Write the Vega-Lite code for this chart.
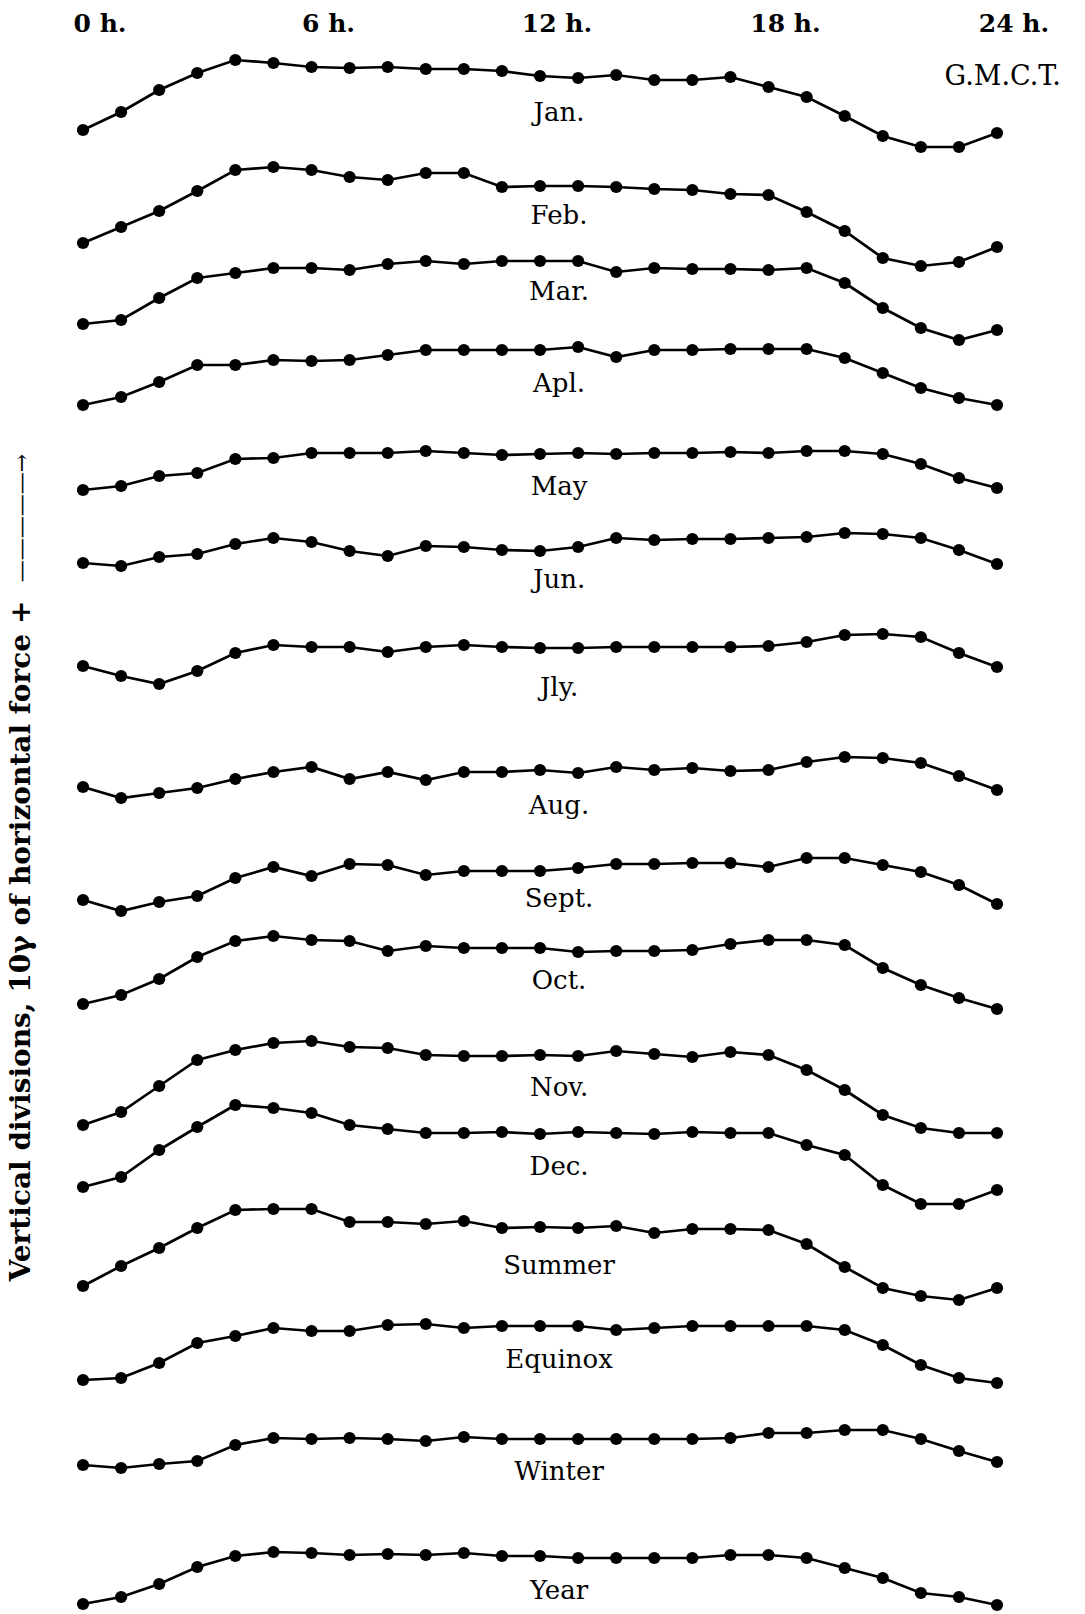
{
  "$schema": "https://vega.github.io/schema/vega-lite/v6.json",
  "width": 1085,
  "height": 1614,
  "autosize": {"type": "none"},
  "padding": 0,
  "background": "white",
  "config": {"view": {"stroke": null}},
  "datasets": {
    "curves": [
      {"series":"Jan.","hour":0,"level":1484},{"series":"Jan.","hour":1,"level":1502},{"series":"Jan.","hour":2,"level":1524},{"series":"Jan.","hour":3,"level":1541},{"series":"Jan.","hour":4,"level":1554},{"series":"Jan.","hour":5,"level":1551},{"series":"Jan.","hour":6,"level":1547},{"series":"Jan.","hour":7,"level":1546},{"series":"Jan.","hour":8,"level":1547},{"series":"Jan.","hour":9,"level":1545},{"series":"Jan.","hour":10,"level":1545},{"series":"Jan.","hour":11,"level":1543},{"series":"Jan.","hour":12,"level":1538},{"series":"Jan.","hour":13,"level":1536},{"series":"Jan.","hour":14,"level":1539},{"series":"Jan.","hour":15,"level":1534},{"series":"Jan.","hour":16,"level":1534},{"series":"Jan.","hour":17,"level":1537},{"series":"Jan.","hour":18,"level":1527},{"series":"Jan.","hour":19,"level":1517},{"series":"Jan.","hour":20,"level":1498},{"series":"Jan.","hour":21,"level":1478},{"series":"Jan.","hour":22,"level":1467},{"series":"Jan.","hour":23,"level":1467},{"series":"Jan.","hour":24,"level":1481},
      {"series":"Feb.","hour":0,"level":1371},{"series":"Feb.","hour":1,"level":1387},{"series":"Feb.","hour":2,"level":1403},{"series":"Feb.","hour":3,"level":1423},{"series":"Feb.","hour":4,"level":1444},{"series":"Feb.","hour":5,"level":1447},{"series":"Feb.","hour":6,"level":1444},{"series":"Feb.","hour":7,"level":1437},{"series":"Feb.","hour":8,"level":1434},{"series":"Feb.","hour":9,"level":1441},{"series":"Feb.","hour":10,"level":1441},{"series":"Feb.","hour":11,"level":1427},{"series":"Feb.","hour":12,"level":1428},{"series":"Feb.","hour":13,"level":1428},{"series":"Feb.","hour":14,"level":1427},{"series":"Feb.","hour":15,"level":1425},{"series":"Feb.","hour":16,"level":1424},{"series":"Feb.","hour":17,"level":1420},{"series":"Feb.","hour":18,"level":1419},{"series":"Feb.","hour":19,"level":1402},{"series":"Feb.","hour":20,"level":1383},{"series":"Feb.","hour":21,"level":1356},{"series":"Feb.","hour":22,"level":1348},{"series":"Feb.","hour":23,"level":1352},{"series":"Feb.","hour":24,"level":1367},
      {"series":"Mar.","hour":0,"level":1290},{"series":"Mar.","hour":1,"level":1294},{"series":"Mar.","hour":2,"level":1316},{"series":"Mar.","hour":3,"level":1336},{"series":"Mar.","hour":4,"level":1341},{"series":"Mar.","hour":5,"level":1346},{"series":"Mar.","hour":6,"level":1346},{"series":"Mar.","hour":7,"level":1344},{"series":"Mar.","hour":8,"level":1350},{"series":"Mar.","hour":9,"level":1353},{"series":"Mar.","hour":10,"level":1350},{"series":"Mar.","hour":11,"level":1353},{"series":"Mar.","hour":12,"level":1353},{"series":"Mar.","hour":13,"level":1353},{"series":"Mar.","hour":14,"level":1342},{"series":"Mar.","hour":15,"level":1346},{"series":"Mar.","hour":16,"level":1345},{"series":"Mar.","hour":17,"level":1345},{"series":"Mar.","hour":18,"level":1344},{"series":"Mar.","hour":19,"level":1346},{"series":"Mar.","hour":20,"level":1331},{"series":"Mar.","hour":21,"level":1306},{"series":"Mar.","hour":22,"level":1286},{"series":"Mar.","hour":23,"level":1274},{"series":"Mar.","hour":24,"level":1284},
      {"series":"Apl.","hour":0,"level":1209},{"series":"Apl.","hour":1,"level":1217},{"series":"Apl.","hour":2,"level":1232},{"series":"Apl.","hour":3,"level":1249},{"series":"Apl.","hour":4,"level":1249},{"series":"Apl.","hour":5,"level":1254},{"series":"Apl.","hour":6,"level":1253},{"series":"Apl.","hour":7,"level":1254},{"series":"Apl.","hour":8,"level":1259},{"series":"Apl.","hour":9,"level":1264},{"series":"Apl.","hour":10,"level":1264},{"series":"Apl.","hour":11,"level":1264},{"series":"Apl.","hour":12,"level":1264},{"series":"Apl.","hour":13,"level":1267},{"series":"Apl.","hour":14,"level":1257},{"series":"Apl.","hour":15,"level":1264},{"series":"Apl.","hour":16,"level":1264},{"series":"Apl.","hour":17,"level":1265},{"series":"Apl.","hour":18,"level":1265},{"series":"Apl.","hour":19,"level":1265},{"series":"Apl.","hour":20,"level":1256},{"series":"Apl.","hour":21,"level":1241},{"series":"Apl.","hour":22,"level":1226},{"series":"Apl.","hour":23,"level":1216},{"series":"Apl.","hour":24,"level":1209},
      {"series":"May","hour":0,"level":1124},{"series":"May","hour":1,"level":1128},{"series":"May","hour":2,"level":1138},{"series":"May","hour":3,"level":1141},{"series":"May","hour":4,"level":1155},{"series":"May","hour":5,"level":1156},{"series":"May","hour":6,"level":1161},{"series":"May","hour":7,"level":1161},{"series":"May","hour":8,"level":1161},{"series":"May","hour":9,"level":1163},{"series":"May","hour":10,"level":1161},{"series":"May","hour":11,"level":1159},{"series":"May","hour":12,"level":1160},{"series":"May","hour":13,"level":1161},{"series":"May","hour":14,"level":1160},{"series":"May","hour":15,"level":1161},{"series":"May","hour":16,"level":1161},{"series":"May","hour":17,"level":1162},{"series":"May","hour":18,"level":1161},{"series":"May","hour":19,"level":1163},{"series":"May","hour":20,"level":1163},{"series":"May","hour":21,"level":1160},{"series":"May","hour":22,"level":1150},{"series":"May","hour":23,"level":1136},{"series":"May","hour":24,"level":1126},
      {"series":"Jun.","hour":0,"level":1051},{"series":"Jun.","hour":1,"level":1048},{"series":"Jun.","hour":2,"level":1057},{"series":"Jun.","hour":3,"level":1060},{"series":"Jun.","hour":4,"level":1070},{"series":"Jun.","hour":5,"level":1076},{"series":"Jun.","hour":6,"level":1072},{"series":"Jun.","hour":7,"level":1063},{"series":"Jun.","hour":8,"level":1058},{"series":"Jun.","hour":9,"level":1068},{"series":"Jun.","hour":10,"level":1067},{"series":"Jun.","hour":11,"level":1064},{"series":"Jun.","hour":12,"level":1063},{"series":"Jun.","hour":13,"level":1067},{"series":"Jun.","hour":14,"level":1076},{"series":"Jun.","hour":15,"level":1074},{"series":"Jun.","hour":16,"level":1075},{"series":"Jun.","hour":17,"level":1075},{"series":"Jun.","hour":18,"level":1076},{"series":"Jun.","hour":19,"level":1077},{"series":"Jun.","hour":20,"level":1081},{"series":"Jun.","hour":21,"level":1080},{"series":"Jun.","hour":22,"level":1076},{"series":"Jun.","hour":23,"level":1064},{"series":"Jun.","hour":24,"level":1050},
      {"series":"Jly.","hour":0,"level":948},{"series":"Jly.","hour":1,"level":938},{"series":"Jly.","hour":2,"level":930},{"series":"Jly.","hour":3,"level":943},{"series":"Jly.","hour":4,"level":961},{"series":"Jly.","hour":5,"level":969},{"series":"Jly.","hour":6,"level":967},{"series":"Jly.","hour":7,"level":967},{"series":"Jly.","hour":8,"level":962},{"series":"Jly.","hour":9,"level":967},{"series":"Jly.","hour":10,"level":969},{"series":"Jly.","hour":11,"level":967},{"series":"Jly.","hour":12,"level":966},{"series":"Jly.","hour":13,"level":966},{"series":"Jly.","hour":14,"level":967},{"series":"Jly.","hour":15,"level":967},{"series":"Jly.","hour":16,"level":967},{"series":"Jly.","hour":17,"level":967},{"series":"Jly.","hour":18,"level":968},{"series":"Jly.","hour":19,"level":972},{"series":"Jly.","hour":20,"level":979},{"series":"Jly.","hour":21,"level":980},{"series":"Jly.","hour":22,"level":977},{"series":"Jly.","hour":23,"level":961},{"series":"Jly.","hour":24,"level":947},
      {"series":"Aug.","hour":0,"level":827},{"series":"Aug.","hour":1,"level":816},{"series":"Aug.","hour":2,"level":821},{"series":"Aug.","hour":3,"level":826},{"series":"Aug.","hour":4,"level":835},{"series":"Aug.","hour":5,"level":842},{"series":"Aug.","hour":6,"level":847},{"series":"Aug.","hour":7,"level":835},{"series":"Aug.","hour":8,"level":842},{"series":"Aug.","hour":9,"level":834},{"series":"Aug.","hour":10,"level":842},{"series":"Aug.","hour":11,"level":842},{"series":"Aug.","hour":12,"level":844},{"series":"Aug.","hour":13,"level":841},{"series":"Aug.","hour":14,"level":847},{"series":"Aug.","hour":15,"level":844},{"series":"Aug.","hour":16,"level":846},{"series":"Aug.","hour":17,"level":843},{"series":"Aug.","hour":18,"level":844},{"series":"Aug.","hour":19,"level":852},{"series":"Aug.","hour":20,"level":857},{"series":"Aug.","hour":21,"level":856},{"series":"Aug.","hour":22,"level":851},{"series":"Aug.","hour":23,"level":838},{"series":"Aug.","hour":24,"level":824},
      {"series":"Sept.","hour":0,"level":714},{"series":"Sept.","hour":1,"level":703},{"series":"Sept.","hour":2,"level":712},{"series":"Sept.","hour":3,"level":718},{"series":"Sept.","hour":4,"level":736},{"series":"Sept.","hour":5,"level":747},{"series":"Sept.","hour":6,"level":738},{"series":"Sept.","hour":7,"level":750},{"series":"Sept.","hour":8,"level":749},{"series":"Sept.","hour":9,"level":739},{"series":"Sept.","hour":10,"level":743},{"series":"Sept.","hour":11,"level":743},{"series":"Sept.","hour":12,"level":743},{"series":"Sept.","hour":13,"level":746},{"series":"Sept.","hour":14,"level":750},{"series":"Sept.","hour":15,"level":750},{"series":"Sept.","hour":16,"level":751},{"series":"Sept.","hour":17,"level":751},{"series":"Sept.","hour":18,"level":747},{"series":"Sept.","hour":19,"level":756},{"series":"Sept.","hour":20,"level":756},{"series":"Sept.","hour":21,"level":749},{"series":"Sept.","hour":22,"level":742},{"series":"Sept.","hour":23,"level":729},{"series":"Sept.","hour":24,"level":710},
      {"series":"Oct.","hour":0,"level":610},{"series":"Oct.","hour":1,"level":619},{"series":"Oct.","hour":2,"level":635},{"series":"Oct.","hour":3,"level":657},{"series":"Oct.","hour":4,"level":673},{"series":"Oct.","hour":5,"level":678},{"series":"Oct.","hour":6,"level":674},{"series":"Oct.","hour":7,"level":673},{"series":"Oct.","hour":8,"level":663},{"series":"Oct.","hour":9,"level":668},{"series":"Oct.","hour":10,"level":666},{"series":"Oct.","hour":11,"level":666},{"series":"Oct.","hour":12,"level":666},{"series":"Oct.","hour":13,"level":662},{"series":"Oct.","hour":14,"level":663},{"series":"Oct.","hour":15,"level":663},{"series":"Oct.","hour":16,"level":664},{"series":"Oct.","hour":17,"level":670},{"series":"Oct.","hour":18,"level":674},{"series":"Oct.","hour":19,"level":674},{"series":"Oct.","hour":20,"level":669},{"series":"Oct.","hour":21,"level":646},{"series":"Oct.","hour":22,"level":629},{"series":"Oct.","hour":23,"level":616},{"series":"Oct.","hour":24,"level":605},
      {"series":"Nov.","hour":0,"level":489},{"series":"Nov.","hour":1,"level":502},{"series":"Nov.","hour":2,"level":528},{"series":"Nov.","hour":3,"level":554},{"series":"Nov.","hour":4,"level":564},{"series":"Nov.","hour":5,"level":571},{"series":"Nov.","hour":6,"level":573},{"series":"Nov.","hour":7,"level":567},{"series":"Nov.","hour":8,"level":566},{"series":"Nov.","hour":9,"level":559},{"series":"Nov.","hour":10,"level":558},{"series":"Nov.","hour":11,"level":558},{"series":"Nov.","hour":12,"level":559},{"series":"Nov.","hour":13,"level":558},{"series":"Nov.","hour":14,"level":563},{"series":"Nov.","hour":15,"level":560},{"series":"Nov.","hour":16,"level":557},{"series":"Nov.","hour":17,"level":562},{"series":"Nov.","hour":18,"level":559},{"series":"Nov.","hour":19,"level":544},{"series":"Nov.","hour":20,"level":524},{"series":"Nov.","hour":21,"level":499},{"series":"Nov.","hour":22,"level":486},{"series":"Nov.","hour":23,"level":481},{"series":"Nov.","hour":24,"level":481},
      {"series":"Dec.","hour":0,"level":427},{"series":"Dec.","hour":1,"level":437},{"series":"Dec.","hour":2,"level":464},{"series":"Dec.","hour":3,"level":487},{"series":"Dec.","hour":4,"level":509},{"series":"Dec.","hour":5,"level":506},{"series":"Dec.","hour":6,"level":501},{"series":"Dec.","hour":7,"level":489},{"series":"Dec.","hour":8,"level":485},{"series":"Dec.","hour":9,"level":481},{"series":"Dec.","hour":10,"level":481},{"series":"Dec.","hour":11,"level":482},{"series":"Dec.","hour":12,"level":480},{"series":"Dec.","hour":13,"level":482},{"series":"Dec.","hour":14,"level":481},{"series":"Dec.","hour":15,"level":480},{"series":"Dec.","hour":16,"level":482},{"series":"Dec.","hour":17,"level":481},{"series":"Dec.","hour":18,"level":481},{"series":"Dec.","hour":19,"level":469},{"series":"Dec.","hour":20,"level":459},{"series":"Dec.","hour":21,"level":429},{"series":"Dec.","hour":22,"level":410},{"series":"Dec.","hour":23,"level":410},{"series":"Dec.","hour":24,"level":424},
      {"series":"Summer","hour":0,"level":328},{"series":"Summer","hour":1,"level":348},{"series":"Summer","hour":2,"level":366},{"series":"Summer","hour":3,"level":386},{"series":"Summer","hour":4,"level":404},{"series":"Summer","hour":5,"level":405},{"series":"Summer","hour":6,"level":405},{"series":"Summer","hour":7,"level":392},{"series":"Summer","hour":8,"level":392},{"series":"Summer","hour":9,"level":390},{"series":"Summer","hour":10,"level":393},{"series":"Summer","hour":11,"level":386},{"series":"Summer","hour":12,"level":387},{"series":"Summer","hour":13,"level":386},{"series":"Summer","hour":14,"level":388},{"series":"Summer","hour":15,"level":381},{"series":"Summer","hour":16,"level":385},{"series":"Summer","hour":17,"level":385},{"series":"Summer","hour":18,"level":384},{"series":"Summer","hour":19,"level":370},{"series":"Summer","hour":20,"level":347},{"series":"Summer","hour":21,"level":326},{"series":"Summer","hour":22,"level":318},{"series":"Summer","hour":23,"level":314},{"series":"Summer","hour":24,"level":326},
      {"series":"Equinox","hour":0,"level":234},{"series":"Equinox","hour":1,"level":236},{"series":"Equinox","hour":2,"level":251},{"series":"Equinox","hour":3,"level":271},{"series":"Equinox","hour":4,"level":278},{"series":"Equinox","hour":5,"level":286},{"series":"Equinox","hour":6,"level":283},{"series":"Equinox","hour":7,"level":283},{"series":"Equinox","hour":8,"level":289},{"series":"Equinox","hour":9,"level":290},{"series":"Equinox","hour":10,"level":286},{"series":"Equinox","hour":11,"level":288},{"series":"Equinox","hour":12,"level":288},{"series":"Equinox","hour":13,"level":288},{"series":"Equinox","hour":14,"level":284},{"series":"Equinox","hour":15,"level":286},{"series":"Equinox","hour":16,"level":288},{"series":"Equinox","hour":17,"level":288},{"series":"Equinox","hour":18,"level":288},{"series":"Equinox","hour":19,"level":288},{"series":"Equinox","hour":20,"level":284},{"series":"Equinox","hour":21,"level":269},{"series":"Equinox","hour":22,"level":249},{"series":"Equinox","hour":23,"level":236},{"series":"Equinox","hour":24,"level":231},
      {"series":"Winter","hour":0,"level":149},{"series":"Winter","hour":1,"level":146},{"series":"Winter","hour":2,"level":150},{"series":"Winter","hour":3,"level":153},{"series":"Winter","hour":4,"level":169},{"series":"Winter","hour":5,"level":176},{"series":"Winter","hour":6,"level":175},{"series":"Winter","hour":7,"level":176},{"series":"Winter","hour":8,"level":175},{"series":"Winter","hour":9,"level":173},{"series":"Winter","hour":10,"level":177},{"series":"Winter","hour":11,"level":175},{"series":"Winter","hour":12,"level":175},{"series":"Winter","hour":13,"level":175},{"series":"Winter","hour":14,"level":175},{"series":"Winter","hour":15,"level":175},{"series":"Winter","hour":16,"level":175},{"series":"Winter","hour":17,"level":176},{"series":"Winter","hour":18,"level":181},{"series":"Winter","hour":19,"level":181},{"series":"Winter","hour":20,"level":184},{"series":"Winter","hour":21,"level":184},{"series":"Winter","hour":22,"level":175},{"series":"Winter","hour":23,"level":163},{"series":"Winter","hour":24,"level":152},
      {"series":"Year","hour":0,"level":10},{"series":"Year","hour":1,"level":17},{"series":"Year","hour":2,"level":30},{"series":"Year","hour":3,"level":47},{"series":"Year","hour":4,"level":58},{"series":"Year","hour":5,"level":62},{"series":"Year","hour":6,"level":61},{"series":"Year","hour":7,"level":59},{"series":"Year","hour":8,"level":60},{"series":"Year","hour":9,"level":59},{"series":"Year","hour":10,"level":61},{"series":"Year","hour":11,"level":58},{"series":"Year","hour":12,"level":58},{"series":"Year","hour":13,"level":56},{"series":"Year","hour":14,"level":56},{"series":"Year","hour":15,"level":56},{"series":"Year","hour":16,"level":56},{"series":"Year","hour":17,"level":59},{"series":"Year","hour":18,"level":59},{"series":"Year","hour":19,"level":56},{"series":"Year","hour":20,"level":46},{"series":"Year","hour":21,"level":36},{"series":"Year","hour":22,"level":21},{"series":"Year","hour":23,"level":17},{"series":"Year","hour":24,"level":9}
    ],
    "labels": [
      {"series":"Jan.","level":1501},{"series":"Feb.","level":1398},{"series":"Mar.","level":1322},{"series":"Apl.","level":1230},{"series":"May","level":1127},{"series":"Jun.","level":1034},{"series":"Jly.","level":926},{"series":"Aug.","level":808},{"series":"Sept.","level":715},{"series":"Oct.","level":633},{"series":"Nov.","level":526},{"series":"Dec.","level":447},{"series":"Summer","level":348},{"series":"Equinox","level":254},{"series":"Winter","level":142},{"series":"Year","level":23}
    ],
    "hours": [
      {"hour":0,"text":"0 h."},{"hour":6,"text":"6 h."},{"hour":12,"text":"12 h."},{"hour":18,"text":"18 h."},{"hour":24,"text":"24 h."}
    ]
  },
  "layer": [
    {
      "data": {"name": "curves"},
      "mark": {"type": "line", "color": "black", "strokeWidth": 2.7},
      "encoding": {
        "x": {"field": "hour", "type": "quantitative", "scale": {"domain": [-2.18, 26.31], "nice": false, "zero": false}, "axis": null},
        "y": {"field": "level", "type": "quantitative", "scale": {"domain": [0, 1614], "nice": false, "zero": false}, "axis": null},
        "detail": {"field": "series"}
      }
    },
    {
      "data": {"name": "curves"},
      "mark": {"type": "point", "shape": "circle", "filled": true, "color": "black", "opacity": 1, "size": 150},
      "encoding": {
        "x": {"field": "hour", "type": "quantitative"},
        "y": {"field": "level", "type": "quantitative"}
      }
    },
    {
      "data": {"name": "labels"},
      "mark": {"type": "text", "font": "DejaVu Serif", "fontSize": 26, "color": "black", "align": "center", "baseline": "middle"},
      "encoding": {
        "x": {"datum": 12.5},
        "y": {"field": "level", "type": "quantitative"},
        "text": {"field": "series"}
      }
    },
    {
      "data": {"name": "hours"},
      "mark": {"type": "text", "font": "DejaVu Serif", "fontSize": 25, "fontWeight": "bold", "color": "black", "align": "center", "baseline": "middle", "dx": 17},
      "encoding": {
        "x": {"field": "hour", "type": "quantitative"},
        "y": {"datum": 1590},
        "text": {"field": "text"}
      }
    },
    {
      "data": {"values": [{"text": "G.M.C.T."}]},
      "mark": {"type": "text", "font": "DejaVu Serif", "fontSize": 27, "color": "black", "align": "center", "baseline": "middle"},
      "encoding": {
        "x": {"datum": 24.15},
        "y": {"datum": 1537},
        "text": {"field": "text"}
      }
    },
    {
      "data": {"values": [{"text": "Vertical divisions, 10γ of horizontal force +"}]},
      "mark": {"type": "text", "font": "DejaVu Serif", "fontSize": 28, "fontWeight": "bold", "color": "black", "align": "center", "baseline": "middle", "angle": 270},
      "encoding": {
        "x": {"datum": -1.6},
        "y": {"datum": 673},
        "text": {"field": "text"}
      }
    },
    {
      "data": {"values": [{"text": "—————→"}]},
      "mark": {"type": "text", "font": "DejaVu Serif", "fontSize": 22, "color": "black", "align": "center", "baseline": "middle", "angle": 270},
      "encoding": {
        "x": {"datum": -1.6},
        "y": {"datum": 1096},
        "text": {"field": "text"}
      }
    }
  ]
}
